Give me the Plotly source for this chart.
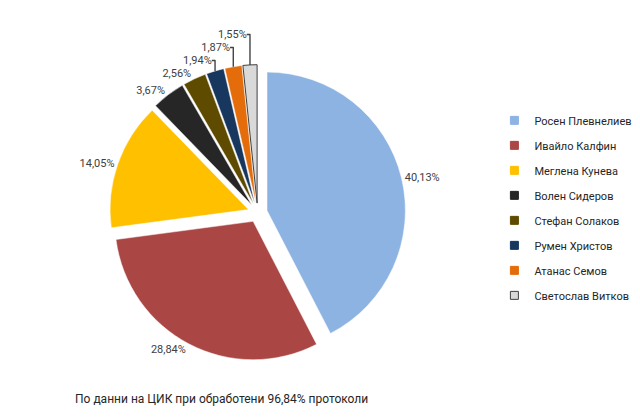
import plotly.graph_objects as go

candidates = ["Росен Плевнелиев", "Ивайло Калфин", "Меглена Кунева", "Волен Сидеров",
              "Стефан Солаков", "Румен Христов", "Атанас Семов", "Светослав Витков"]
percent = [40.13, 28.84, 14.05, 3.67, 2.56, 1.94, 1.87, 1.55]
percent_labels = ["40,13%", "28,84%", "14,05%", "3,67%", "2,56%", "1,94%", "1,87%", "1,55%"]
colors = ["#8DB3E2", "#AA4644", "#FFC000", "#262626", "#5F4B00", "#17375E", "#E46C0A", "#D9D9D9"]
note = "По данни на ЦИК при обработени 96,84% протоколи"

outline = ["#FFFFFF"] * 7 + ["#404040"]

fig = go.Figure()
fig.add_trace(go.Pie(
    labels=candidates,
    values=percent,
    text=percent_labels,
    textinfo="text",
    textposition="outside",
    textfont=dict(size=11, color="#404040"),
    sort=False,
    direction="clockwise",
    rotation=0,
    pull=[0.07] * len(percent),
    marker=dict(colors=colors, line=dict(color=outline, width=[0.5] * 7 + [1])),
    domain=dict(x=[0.04, 0.74], y=[0.16, 0.865]),
    hoverinfo="label+text",
    showlegend=False,
    automargin=False,
))

for name, col, lc in zip(candidates, colors, outline):
    fig.add_trace(go.Scatter(
        x=[None], y=[None], mode="markers", name=name, legendgroup=name,
        marker=dict(symbol="square", size=8, color=col,
                    line=dict(color="#404040" if lc != "#FFFFFF" else col, width=1)),
    ))

fig.update_layout(
    width=640, height=420,
    autosize=False,
    margin=dict(l=0, r=0, t=0, b=0, pad=0, autoexpand=False),
    paper_bgcolor="white",
    plot_bgcolor="white",
    xaxis=dict(visible=False),
    yaxis=dict(visible=False),
    font=dict(family="Roboto, DejaVu Sans, sans-serif", size=11, color="#404040"),
    legend=dict(x=0.76, y=0.767, xanchor="left", yanchor="top",
                font=dict(size=11, color="#262626"), traceorder="grouped",
                tracegroupgap=6, itemwidth=30),
    annotations=[dict(text=note, x=65 / 640, y=1 - 391 / 420, xref="paper", yref="paper",
                      xanchor="left", yanchor="middle", showarrow=False, align="left",
                      font=dict(size=12, color="#262626"))],
)

fig.write_html("out.html")
